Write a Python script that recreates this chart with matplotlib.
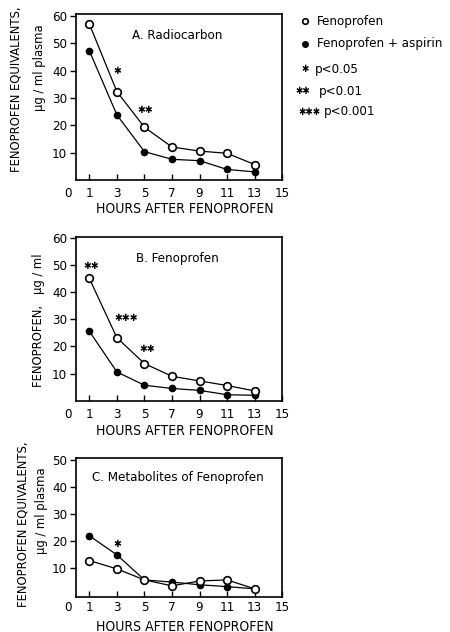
import matplotlib
matplotlib.use("Agg")
import matplotlib.pyplot as plt
from matplotlib.lines import Line2D
from matplotlib.transforms import blended_transform_factory

plt.rcParams['font.family'] = ['DejaVu Sans']
plt.rcParams['font.stretch'] = 'condensed'

hours = [1, 3, 5, 7, 9, 11, 13]
xtick_vals = [1, 3, 5, 7, 9, 11, 13, 15]

# panel A: radiocarbon (fenoprofen equivalents, ug/ml plasma)
a_feno = [57.0, 32.3, 19.3, 12.1, 10.6, 9.8, 5.7]
a_asp = [47.2, 23.8, 10.4, 7.6, 7.1, 3.9, 3.0]
# panel B: fenoprofen (ug/ml)
b_feno = [45.1, 23.2, 13.7, 9.0, 7.3, 5.6, 3.6]
b_asp = [25.6, 10.6, 5.7, 4.5, 3.8, 2.2, 2.0]
# panel C: metabolites
c_feno = [12.6, 9.5, 5.4, 3.2, 5.0, 5.4, 2.1]
c_asp = [21.8, 14.7, 5.4, 4.6, 3.6, 2.9, 2.1]

# significance marks: (hour, y, number of stars)
a_sig = [(3.0, 40.0, 1), (5.05, 25.6, 2)]
b_sig = [(1.15, 49.6, 2), (3.7, 30.5, 3), (5.2, 19.0, 2)]
c_sig = [(3.0, 18.9, 1)]

panels = [
    dict(feno=a_feno, asp=a_asp, sig=a_sig, title="A. Radiocarbon", title_y=0.87,
         yticks=[10, 20, 30, 40, 50, 60], ylim=(0, 60.7), xlab_y=-0.13, pad=5,
         rect=[0.168, 0.715, 0.459, 0.263]),
    dict(feno=b_feno, asp=b_asp, sig=b_sig, title="B. Fenoprofen", title_y=0.87,
         yticks=[10, 20, 30, 40, 50, 60], ylim=(0, 60.4), xlab_y=-0.14, pad=5,
         rect=[0.168, 0.366, 0.459, 0.259]),
    dict(feno=c_feno, asp=c_asp, sig=c_sig, title="C. Metabolites of Fenoprofen",
         title_y=0.855, yticks=[10, 20, 30, 40, 50], ylim=(-0.8, 50.85),
         xlab_y=-0.165, pad=3, rect=[0.168, 0.056, 0.459, 0.220]),
]

fig = plt.figure(figsize=(4.5, 6.32), dpi=100)

for p in panels:
    ax = fig.add_axes(p["rect"])
    ax.plot(hours, p["asp"], color="black", lw=0.9, marker="o", ms=4.5,
            mfc="black", mec="black", zorder=3)
    ax.plot(hours, p["feno"], color="black", lw=0.9, marker="o", ms=5.5,
            mfc="white", mec="black", mew=1.2, zorder=4)
    for x, y, n in p["sig"]:
        ax.text(x, y, "\u2731" * n, fontsize=7.5, ha="center", va="center")
    ax.set_xlim(0, 15)
    ax.set_ylim(*p["ylim"])
    ax.set_xticks(xtick_vals)
    ax.set_yticks(p["yticks"])
    ax.tick_params(axis="x", direction="in", length=4, width=1, pad=p["pad"],
                   labelsize=9.5)
    ax.tick_params(axis="y", direction="out", length=4, width=1, pad=2, labelsize=9.5)
    for s in ax.spines.values():
        s.set_linewidth(1.2)
    trans = blended_transform_factory(ax.transData, ax.transAxes)
    ax.annotate("0", xy=(-0.55, 0), xycoords=trans, xytext=(0, -p["pad"]),
                textcoords="offset points", fontsize=9.5, ha="center", va="top")
    ax.text(7.4, p["title_y"], p["title"], transform=trans, fontsize=9.5,
            ha="center", va="center")
    ax.set_xlabel("HOURS AFTER FENOPROFEN", fontsize=10, labelpad=0)
    ax.xaxis.set_label_coords(0.53, p["xlab_y"])

# y-axis labels
ylab = dict(rotation=90, fontsize=9.3, ha="center", va="center")
fig.text(16 / 450, 1 - 89 / 632, "FENOPROFEN EQUIVALENTS,", **ylab)
fig.text(40 / 450, 1 - 68 / 632, "\u00b5g / ml plasma", **ylab)
fig.text(39 / 450, 1 - 320 / 632, "FENOPROFEN,   \u00b5g / ml", **ylab)
fig.text(23 / 450, 1 - 524 / 632, "FENOPROFEN EQUIVALENTS,", **ylab)
fig.text(42 / 450, 1 - 511 / 632, "\u00b5g / ml plasma", **ylab)

# legend
fig.add_artist(Line2D([305 / 450], [1 - 21 / 632], transform=fig.transFigure,
                      marker="o", ms=4, mfc="white", mec="black", mew=1.2))
fig.text(317 / 450, 1 - 21 / 632, "Fenoprofen", fontsize=9.5, va="center")
fig.add_artist(Line2D([305 / 450], [1 - 44 / 632], transform=fig.transFigure,
                      marker="o", ms=4, mfc="black", mec="black"))
fig.text(317 / 450, 1 - 44 / 632, "Fenoprofen + aspirin", fontsize=9.5, va="center")
legend_sig = [("\u2731", "p<0.05", 305, 315, 69),
              ("\u2731\u2731", "p<0.01", 303, 319, 91),
              ("\u2731\u2731\u2731", "p<0.001", 309, 324, 112)]
for stars, lab, sx, tx, ty in legend_sig:
    fig.text(sx / 450, 1 - ty / 632, stars, fontsize=7, ha="center", va="center")
    fig.text(tx / 450, 1 - ty / 632, lab, fontsize=9.5, va="center")

fig.savefig("out.png", dpi=100)
